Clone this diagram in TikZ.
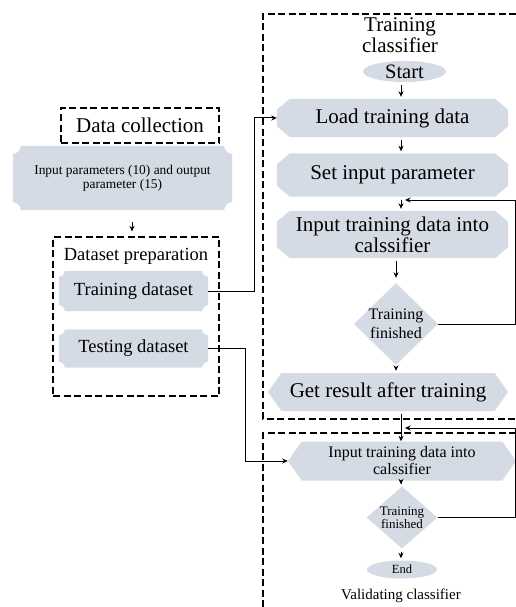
\documentclass[tikz,border=0pt]{standalone}
\usepackage{fontspec}
\setmainfont{Liberation Serif}
\usetikzlibrary{arrows.meta,shapes.geometric,shapes.symbols,backgrounds}

\definecolor{boxgray}{RGB}{213,219,228}

\newcommand{\notchfill}[2]{%
  \fill[boxgray] ([xshift=#2]#1.north west) -- ([xshift=-#2]#1.north east)
    arc[start angle=180,end angle=270,radius=#2] -- ([yshift=#2]#1.south east)
    arc[start angle=90,end angle=180,radius=#2] -- ([xshift=#2]#1.south west)
    arc[start angle=0,end angle=90,radius=#2] -- ([yshift=-#2]#1.north west)
    arc[start angle=270,end angle=360,radius=#2] -- cycle;}
\newcommand{\chamfill}[1]{%
  \fill[boxgray] ([xshift=13pt]#1.north west) -- ([xshift=-13pt]#1.north east)
    -- ([yshift=-11pt]#1.north east) -- ([yshift=11pt]#1.south east)
    -- ([xshift=-13pt]#1.south east) -- ([xshift=13pt]#1.south west)
    -- ([yshift=11pt]#1.south west) -- ([yshift=-11pt]#1.north west) -- cycle;}

\begin{document}
\begin{tikzpicture}[x=1pt,y=1pt,
  frame/.style={draw,dash pattern=on 7pt off 3.5pt,line width=1.1pt},
  notch/.style={inner sep=0pt,align=center},
  stagebox/.style={inner sep=0pt,align=center,font=\fontsize{21}{21}\selectfont},
  hexa/.style={signal,signal to=west and east,signal pointer angle=110,fill=boxgray,inner sep=0pt,align=center},
  decide/.style={diamond,fill=boxgray,inner sep=-9pt,align=center},
  term/.style={ellipse,fill=boxgray,inner sep=-3pt},
  flow/.style={-{Stealth[length=5.5pt,width=5pt]},line width=0.9pt,shorten <=3pt,shorten >=2pt},
  link/.style={-{Stealth[length=5.5pt,width=5pt]},line width=1pt},
  fxl/.style={font=\fontsize{21}{21}\selectfont},
  fl/.style={font=\fontsize{18.5}{20}\selectfont}]
\useasboundingbox (0,0) rectangle (516,-607);

\coordinate (spine) at (401,0);
\coordinate (rt) at (515,0);
\coordinate (fb1) at (405,-200);
\coordinate (fb2) at (405,-428);

\node[frame,fxl,minimum width=158,minimum height=35,inner sep=0pt] (dcol) at (140,-125.5) {Data collection};
\node[notch,minimum width=219,minimum height=64,font=\fontsize{13.4}{14}\selectfont] (inpar) at (122.5,-178) {Input parameters (10) and output\\parameter (15)};
\node[frame,minimum width=166,minimum height=159] (prep) at (136,-316.5) {};
\node[fl,anchor=base] (preptitle) at (136,-260) {Dataset preparation};
\node[notch,fl,minimum width=149,minimum height=40] (trainset) at (133.5,-291) {Training dataset};
\node[notch,fl,minimum width=149,minimum height=38] (testset) at (133.5,-348.5) {Testing dataset};

\draw[frame] (516,-14) -- (263,-14) -- (263,-419) -- (516,-419);
\draw[frame] (516,-433) -- (263,-433) -- (263,-607);

\node[fxl,align=center] (traintitle) at (400,-35.5) {Training\\classifier};
\node[term,minimum width=83,minimum height=21,font=\fontsize{20.5}{21}\selectfont] (start) at (404.5,-71.5) {Start};
\node[stagebox,minimum width=231,minimum height=38] (load) at (392.5,-118) {Load training data};
\node[stagebox,minimum width=231,minimum height=43] (setpar) at (392.5,-175) {Set input parameter};
\node[stagebox,minimum width=231,minimum height=47] (inputtr) at (392.5,-234.5) {Input training data into\\calssifier};
\node[decide,minimum width=84,minimum height=82,font=\fontsize{16}{19}\selectfont] (dec1) at (396,-324) {Training\\finished};
\node[hexa,fxl,minimum width=240,minimum height=38] (result) at (388,-392) {Get result after training};

\node[hexa,minimum width=228,minimum height=39,font=\fontsize{16}{17}\selectfont] (valinput) at (402,-461) {Input training data into\\calssifier};
\node[decide,minimum width=71,minimum height=62,font=\fontsize{13}{13}\selectfont] (dec2) at (402,-517.5) {Training\\finished};
\node[term,minimum width=70,minimum height=18,font=\fontsize{12.5}{13}\selectfont] (end) at (402,-569.5) {End};
\node[font=\fontsize{15}{16}\selectfont] (valtitle) at (401,-596) {Validating classifier};

\begin{scope}[on background layer]
\notchfill{inpar}{8pt}
\notchfill{trainset}{6pt}
\notchfill{testset}{6pt}
\chamfill{load}
\chamfill{setpar}
\chamfill{inputtr}
\end{scope}

\draw[flow,shorten <=12pt,shorten >=5pt] ([xshift=9.5pt]inpar.south) -- ([xshift=-4pt]prep.north);
\draw[flow] (start.south -| spine) -- (load.north -| spine);
\draw[flow] (load.south -| spine) -- (setpar.north -| spine);
\draw[flow] (setpar.south -| spine) -- (inputtr.north -| spine);
\draw[flow,shorten >=5pt] (inputtr.south -| dec1.north) -- (dec1.north);
\draw[flow] (dec1.south) -- (dec1.south |- result.north);
\draw[flow,shorten >=0pt] (result.south -| spine) -- (valinput.north -| spine);
\draw[flow] (valinput.south -| spine) -- (dec2.north -| spine);
\draw[flow] (dec2.south -| spine) -- (end.north -| spine);

\draw[link] (trainset.east) -- ++(46,0) |- (load.west);
\draw[link] (testset.east) -- ++(37,0) |- (valinput.west);
\draw[link] (dec1.east) -- (dec1.east -| rt) |- (fb1);
\draw[link] (dec2.east) -- (dec2.east -| rt) |- (fb2);
\end{tikzpicture}
\end{document}
